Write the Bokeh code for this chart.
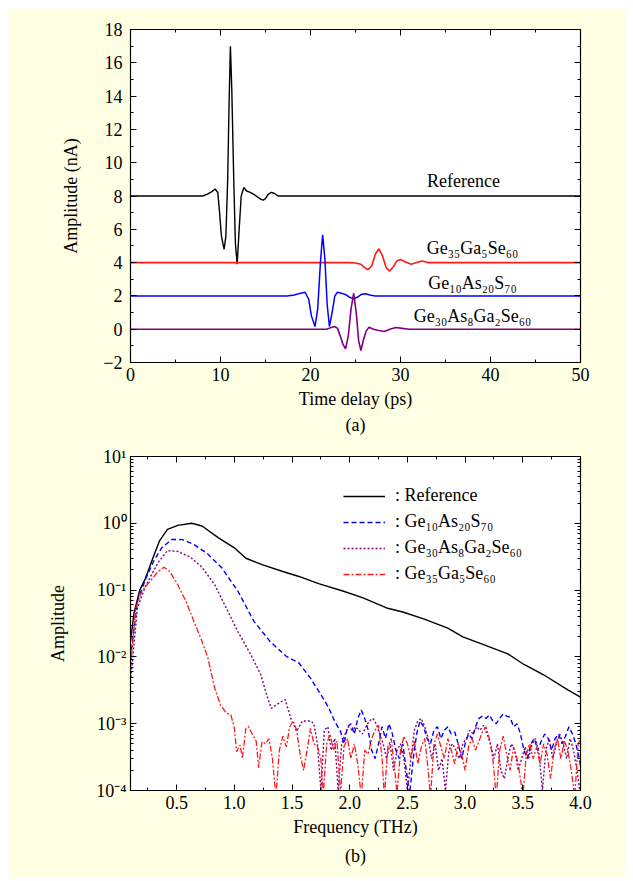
from bokeh.plotting import figure
from bokeh.layouts import column
from bokeh.models import (Range1d, LinearAxis, LogAxis, SingleIntervalTicker, LogTicker,
                          CustomJSTickFormatter, PrintfTickFormatter, Legend, LegendItem, Title)
from bokeh.core.properties import value
from bokeh.embed import file_html
from bokeh.resources import INLINE

FONT = "Liberation Serif"
BG = "#FFFFE3"

# ---------------- panel (a) data: time-domain waveforms ----------------
ref_t = [0, 8.0, 8.5, 9.0, 9.4, 9.7, 9.9, 10.1, 10.4, 10.6, 10.8, 10.95, 11.1, 11.25, 11.45,
         11.65, 11.85, 12.05, 12.3, 12.6, 12.9, 13.3, 13.7, 14.1, 14.5, 14.75, 15.0, 15.3,
         15.65, 16.0, 16.4, 50]
ref_a = [8.0, 8.0, 8.1, 8.25, 8.42, 8.2, 7.0, 5.6, 4.8, 5.6, 9.0, 13.5, 17.0, 14.5, 9.5,
         5.2, 3.9, 5.8, 8.0, 8.52, 8.3, 8.22, 8.1, 7.95, 7.8, 7.75, 7.85, 8.1,
         8.22, 8.15, 8.0, 8.0]

gaga_t = [0, 24.3, 25.0, 25.6, 26.0, 26.4, 26.8, 27.2, 27.6, 28.0, 28.4, 28.8, 29.2, 29.6,
          30.0, 30.5, 31.2, 31.8, 32.4, 33.0, 50]
gaga_a = [4.0, 4.0, 3.98, 3.9, 3.7, 3.57, 3.8, 4.5, 4.83, 4.4, 3.7, 3.49, 3.75, 4.1,
          4.19, 4.05, 3.9, 4.0, 4.1, 4.0, 4.0]

gas_t = [0, 17.4, 18.2, 18.8, 19.4, 19.8, 20.1, 20.5, 20.8, 21.1, 21.35, 21.6, 21.85, 22.1,
         22.4, 22.7, 23.0, 23.5, 24.0, 24.4, 24.8, 25.3, 25.7, 26.1, 26.6, 27.2, 50]
gas_a = [2.0, 2.0, 2.05, 2.15, 2.22, 1.8, 0.8, 0.16, 1.2, 4.0, 5.67, 4.2, 1.5, 0.16,
         1.0, 2.0, 2.22, 2.15, 2.05, 1.9, 1.82, 1.95, 2.1, 2.13, 2.05, 2.0, 2.0]

gags_t = [0, 21.8, 22.3, 22.7, 23.0, 23.3, 23.6, 23.9, 24.2, 24.5, 24.8, 25.1, 25.35, 25.6,
          25.9, 26.2, 26.5, 27.0, 27.6, 28.2, 28.8, 29.5, 30.2, 31.0, 50]
gags_a = [0.0, 0.0, 0.1, 0.16, 0.05, -0.4, -0.9, -1.18, -0.4, 1.2, 2.16, 0.9, -0.7, -1.28,
          -0.6, -0.1, 0.12, 0.0, -0.08, -0.14, 0.0, 0.1, 0.05, 0.0, 0.0]

labels_a = ["Reference", "Ge\u2083\u2085Ga\u2085Se\u2086\u2080",
            "Ge\u2081\u2080As\u2082\u2080S\u2087\u2080", "Ge\u2083\u2080As\u2088Ga\u2082Se\u2086\u2080"]

# ---------------- panel (b) data: amplitude spectra ----------------
f_ref = [0.10, 0.13, 0.18, 0.23, 0.30, 0.35, 0.42, 0.51, 0.63, 0.72, 0.86, 1.00, 1.10, 1.24,
         1.42, 1.56, 1.73, 1.94, 2.11, 2.32, 2.46, 2.64, 2.85, 2.98, 3.16, 3.37, 3.51, 3.68,
         3.89, 4.00]
s_ref = [0.017, 0.045, 0.100, 0.150, 0.32, 0.54, 0.81, 0.93, 1.00, 0.91, 0.61, 0.43, 0.30, 0.24,
         0.19, 0.16, 0.125, 0.097, 0.077, 0.054, 0.047, 0.037, 0.027, 0.020, 0.0153, 0.0111,
         0.0077, 0.0054, 0.0032, 0.0025]

f_gas = [0.10, 0.16, 0.23, 0.30, 0.37, 0.46, 0.55, 0.65, 0.76, 0.89, 1.03, 1.17, 1.31, 1.45,
         1.56, 1.66, 1.77, 1.82, 1.87, 1.92,
         1.95, 1.98, 2.01, 2.04, 2.07, 2.10, 2.13, 2.16, 2.19, 2.22, 2.25, 2.28, 2.31, 2.34,
         2.37, 2.40, 2.43, 2.46, 2.49, 2.52, 2.55, 2.58, 2.61, 2.64, 2.67, 2.70, 2.73, 2.76,
         2.79, 2.82, 2.85, 2.88, 2.91, 2.94, 2.97, 3.00, 3.03, 3.06, 3.09, 3.12, 3.15, 3.18,
         3.21, 3.24, 3.27, 3.30, 3.33, 3.36, 3.39, 3.42, 3.45, 3.48, 3.51, 3.54, 3.57, 3.60,
         3.63, 3.66, 3.69, 3.72, 3.75, 3.78, 3.81, 3.84, 3.87, 3.90, 3.93, 3.96, 3.99, 4.00]
s_gas = [0.0098, 0.068, 0.145, 0.27, 0.43, 0.575, 0.57, 0.48, 0.36, 0.216, 0.097, 0.034, 0.017,
         0.0102, 0.0081, 0.0048, 0.0024, 0.0017, 0.00108, 0.00077,
         5e-4, 9e-4, 1.0e-3, 7e-4, 1.2e-3, 1.6e-3, 1.2e-3, 8e-4, 4e-4, 3e-4, 5e-4, 9e-4, 6e-4,
         1.0e-3, 7e-4, 4e-4, 3e-4, 5e-4, 2e-4, 9e-5, 3e-4, 7e-4, 1.1e-3, 9e-4, 6e-4, 5e-4,
         8e-4, 9e-4, 6e-4, 8e-4, 9e-4, 7e-4, 7.5e-4, 5e-4, 3e-4, 5e-4, 7e-4, 6e-4, 9e-4,
         1.2e-3, 1.3e-3, 1.2e-3, 1.35e-3, 1.1e-3, 1.0e-3, 1.2e-3, 1.4e-3, 1.3e-3, 1.25e-3,
         9e-4, 1.0e-3, 7e-4, 4e-4, 3e-4, 5e-4, 6e-4, 4e-4, 5.5e-4, 7e-4, 6e-4, 4e-4, 6e-4,
         7e-4, 5e-4, 6.5e-4, 9e-4, 7e-4, 5e-4, 3e-4, 2.3e-4]

f_gags = [0.10, 0.16, 0.23, 0.34, 0.42, 0.51, 0.62, 0.72, 0.83, 0.93, 1.03, 1.14, 1.23, 1.28,
          1.32, 1.38, 1.44, 1.49, 1.54, 1.59, 1.66,
          1.69, 1.72, 1.75, 1.78, 1.81, 1.84, 1.87, 1.90, 1.93, 1.96, 1.99, 2.02, 2.05, 2.08,
          2.11, 2.14, 2.17, 2.20, 2.23, 2.26, 2.29, 2.32, 2.35, 2.38, 2.41, 2.44, 2.47, 2.50,
          2.53, 2.56, 2.59, 2.62, 2.65, 2.68, 2.71, 2.74, 2.77, 2.80, 2.83, 2.86, 2.89, 2.92,
          2.95, 2.98, 3.01, 3.04, 3.07, 3.10, 3.13, 3.16, 3.19, 3.22, 3.25, 3.28, 3.31, 3.34,
          3.37, 3.40, 3.43, 3.46, 3.49, 3.52, 3.55, 3.58, 3.61, 3.64, 3.67, 3.70, 3.73, 3.76,
          3.79, 3.82, 3.85, 3.88, 3.91, 3.94, 3.97, 4.00]
s_gags = [0.0043, 0.054, 0.115, 0.26, 0.39, 0.38, 0.31, 0.22, 0.12, 0.054, 0.024, 0.011, 0.0054,
          0.0027, 0.0017, 0.0020, 0.0023, 0.0012, 0.00077, 0.0011, 0.0011,
          1.0e-3, 5e-4, 1.0e-4, 8e-4, 9e-4, 4e-4, 6e-4, 1.0e-4, 5e-4, 7e-4, 9e-4, 8e-4, 9e-4,
          8e-4, 7e-4, 9e-4, 1.1e-3, 1.2e-3, 1.0e-3, 7e-4, 5e-4, 3e-4, 5e-4, 2e-4, 4e-4, 5e-4,
          3e-4, 1e-4, 3e-4, 8e-4, 1.1e-3, 1.2e-3, 9e-4, 6e-4, 3e-4, 5e-4, 2e-4, 3e-4, 1e-4,
          4e-4, 5e-4, 4e-4, 3e-4, 5e-4, 6e-4, 8e-4, 7e-4, 9e-4, 8e-4, 9.5e-4, 7e-4, 5e-4,
          3e-4, 5e-4, 2e-4, 1.5e-4, 3e-4, 5e-4, 4e-4, 2e-4, 3e-4, 4.5e-4, 3e-4, 5e-4, 6e-4,
          3.5e-4, 1e-4, 4e-4, 6e-4, 3e-4, 5e-4, 7e-4, 5e-4, 3e-4, 6e-4, 4e-4, 2e-4, 8e-5]

f_gaga = [0.10, 0.145, 0.20, 0.27, 0.34, 0.39, 0.44, 0.51, 0.58, 0.65, 0.72, 0.77, 0.83, 0.88,
          0.93, 0.97, 1.00, 1.02, 1.05, 1.07, 1.10, 1.12, 1.16, 1.19, 1.21, 1.24,
          1.27, 1.30, 1.33, 1.36, 1.39, 1.42, 1.45, 1.48, 1.51, 1.54, 1.57, 1.60, 1.63, 1.66,
          1.69, 1.72, 1.75, 1.77, 1.80, 1.83, 1.86, 1.89, 1.92, 1.95, 1.98, 2.01, 2.04, 2.07,
          2.10, 2.13, 2.16, 2.19, 2.22, 2.25, 2.28, 2.30, 2.33, 2.36, 2.39, 2.41, 2.44, 2.47,
          2.50, 2.53, 2.56, 2.59, 2.62, 2.65, 2.68, 2.70, 2.73, 2.76, 2.79, 2.82, 2.85, 2.88,
          2.91, 2.94, 2.97, 3.00, 3.03, 3.06, 3.09, 3.12, 3.15, 3.18, 3.21, 3.24, 3.27, 3.30,
          3.33, 3.36, 3.39, 3.42, 3.45, 3.48, 3.50, 3.53, 3.56, 3.59, 3.62, 3.65, 3.68, 3.71,
          3.74, 3.77, 3.80, 3.83, 3.86, 3.89, 3.92, 3.95, 3.98, 4.00]
s_gaga = [0.0069, 0.054, 0.097, 0.136, 0.19, 0.22, 0.19, 0.12, 0.068, 0.034, 0.017, 0.0097,
          0.0034, 0.0019, 0.00145, 0.00136, 0.00086, 0.00038, 0.00048, 0.0003, 0.00086, 0.00091,
          0.00068, 0.00054, 0.00022, 0.00054,
          5.0e-4, 6.0e-4, 3.0e-4, 8e-5, 4.0e-4, 6.5e-4, 4.5e-4, 9.0e-4, 1.1e-3, 8.0e-4, 3.5e-4,
          2.0e-4, 4.0e-4, 8.5e-4, 5.0e-4, 4.5e-4, 3.0e-4, 8e-5, 5.0e-4, 7.0e-4, 4.0e-4, 5.5e-4,
          9e-5, 4.5e-4, 6.0e-4, 3.0e-4, 5.0e-4, 2.5e-4, 8e-5, 4.0e-4, 3.5e-4, 6.0e-4, 8.0e-4,
          9.5e-4, 3.0e-4, 8e-5, 4.5e-4, 6.0e-4, 2.0e-4, 9e-5, 4.0e-4, 6.5e-4, 5.0e-4, 3.0e-4,
          5.5e-4, 2.5e-4, 4.5e-4, 6.0e-4, 2.0e-4, 8e-5, 5.0e-4, 7.0e-4, 4.5e-4, 3.0e-4, 6.0e-4,
          4.0e-4, 2.5e-4, 5.0e-4, 3.5e-4, 2.0e-4, 4.5e-4, 6.0e-4, 4.0e-4, 5.5e-4, 7.5e-4,
          9.0e-4, 6.0e-4, 3.0e-4, 8e-5, 4.0e-4, 6.5e-4, 3.5e-4, 2.0e-4, 4.5e-4, 3.0e-4, 1.5e-4,
          8e-5, 3.5e-4, 5.0e-4, 3.0e-4, 4.5e-4, 2.5e-4, 5.0e-4, 3.5e-4, 1.5e-4, 4.0e-4, 6.0e-4,
          3.0e-4, 5.5e-4, 4.0e-4, 2.0e-4, 8e-5, 5.0e-4, 6.0e-4]

legend_b = [": Reference", ": Ge\u2081\u2080As\u2082\u2080S\u2087\u2080",
            ": Ge\u2083\u2080As\u2088Ga\u2082Se\u2086\u2080", ": Ge\u2083\u2085Ga\u2085Se\u2086\u2080"]

BLACK, RED, BLUE, PURPLE = "#000000", "#FF1A1A", "#0000FF", "#800080"


def style_axes(p, xticker, yticker, xfmt=None, yfmt=None, log_y=False):
    for ax in p.axis:
        ax.axis_line_color = "black"
        ax.axis_line_width = 1.2
        ax.major_tick_in = 6
        ax.major_tick_out = 0
        ax.minor_tick_in = 3
        ax.minor_tick_out = 0
        ax.major_tick_line_color = "black"
        ax.minor_tick_line_color = "black"
        ax.major_label_text_font = FONT
        ax.major_label_text_font_size = "18px"
        ax.major_label_text_color = "black"
        ax.axis_label_text_font = FONT
        ax.axis_label_text_font_size = "18px"
        ax.axis_label_text_font_style = "normal"
        ax.axis_label_text_color = "black"
    p.xaxis.ticker = xticker
    p.yaxis.ticker = yticker
    if xfmt is not None:
        p.xaxis.formatter = xfmt
    if yfmt is not None:
        p.yaxis.formatter = yfmt
    # mirrored axes with inward ticks, no labels
    blank = CustomJSTickFormatter(code="return '';")
    top = LinearAxis(ticker=xticker, formatter=blank)
    if log_y:
        right = LogAxis(ticker=yticker, formatter=blank)
    else:
        right = LinearAxis(ticker=yticker, formatter=blank)
    for ax in (top, right):
        ax.axis_line_color = "black"
        ax.axis_line_width = 1.2
        ax.major_tick_in = 6
        ax.major_tick_out = 0
        ax.minor_tick_in = 3
        ax.minor_tick_out = 0
        ax.major_label_text_font_size = "0px"
        ax.major_label_standoff = 0
    p.add_layout(top, "above")
    p.add_layout(right, "right")


# ---------------- panel (a) ----------------
pa = figure(width=617, height=435, output_backend="svg", toolbar_location=None,
            x_range=Range1d(0, 50), y_range=Range1d(-2, 18),
            min_border_left=122, min_border_right=45, min_border_top=21, min_border_bottom=81,
            background_fill_color="white", border_fill_color=BG, outline_line_color="black")
pa.grid.visible = False
pa.xaxis.axis_label = "Time delay (ps)"
pa.yaxis.axis_label = "Amplitude (nA)"
style_axes(pa, SingleIntervalTicker(interval=10, num_minor_ticks=2),
           SingleIntervalTicker(interval=2, num_minor_ticks=2))
pa.yaxis[0].major_label_standoff = 8
pa.yaxis[0].axis_label_standoff = 19
pa.xaxis[0].major_label_standoff = 10
pa.xaxis[0].axis_label_standoff = 4

pa.line(ref_t, ref_a, line_color=BLACK, line_width=1.4)
pa.line(gaga_t, gaga_a, line_color=RED, line_width=1.6)
pa.line(gas_t, gas_a, line_color=BLUE, line_width=1.5)
pa.line(gags_t, gags_a, line_color=PURPLE, line_width=1.6)

pa.text(x=[37, 38, 38, 38], y=[8.9, 4.85, 2.76, 0.78], text=labels_a,
        text_font=value(FONT), text_font_size="18px", text_align="center",
        text_baseline="middle", text_color="black")

ta = Title(text="(a)", align="center", text_font=FONT, text_font_size="18px",
           text_font_style="normal", text_color="black", standoff=2)
pa.add_layout(ta, "below")

# ---------------- panel (b) ----------------
pb = figure(width=617, height=435, output_backend="svg", toolbar_location=None,
            x_range=Range1d(0.1, 4.0), y_range=Range1d(1e-4, 10), y_axis_type="log",
            min_border_left=122, min_border_right=45, min_border_top=13, min_border_bottom=88,
            background_fill_color="white", border_fill_color=BG, outline_line_color="black")
pb.grid.visible = False
pb.xaxis.axis_label = "Frequency (THz)"
pb.yaxis.axis_label = "Amplitude"
sup_fmt = CustomJSTickFormatter(code="""
const sup = {'0':'\u2070','1':'\u00b9','2':'\u00b2','3':'\u00b3','4':'\u2074','5':'\u2075',
             '6':'\u2076','7':'\u2077','8':'\u2078','9':'\u2079','-':'\u207b'};
const e = Math.round(Math.log10(tick));
return '10' + String(e).split('').map(c => sup[c]).join('');
""")
style_axes(pb, SingleIntervalTicker(interval=0.5, num_minor_ticks=2),
           LogTicker(num_minor_ticks=10), xfmt=PrintfTickFormatter(format="%.1f"),
           yfmt=sup_fmt, log_y=True)
pb.yaxis[0].major_label_standoff = 4
pb.yaxis[0].axis_label_standoff = 25
pb.xaxis[0].major_label_standoff = 7
pb.xaxis[0].axis_label_standoff = 8

r0 = pb.line(f_ref, s_ref, line_color=BLACK, line_width=1.4)
r1 = pb.line(f_gas, s_gas, line_color=BLUE, line_width=1.4, line_dash="5 3")
r2 = pb.line(f_gags, s_gags, line_color=PURPLE, line_width=1.4, line_dash="2 2")
r3 = pb.line(f_gaga, s_gaga, line_color=RED, line_width=1.3, line_dash="6 2 2 2")

leg = Legend(items=[LegendItem(label=legend_b[0], renderers=[r0]),
                    LegendItem(label=legend_b[1], renderers=[r1]),
                    LegendItem(label=legend_b[2], renderers=[r2]),
                    LegendItem(label=legend_b[3], renderers=[r3])],
             location=(213, 206), label_text_font=FONT, label_text_font_size="18px",
             label_text_color="black", glyph_width=42, glyph_height=20, label_height=20,
             label_standoff=10, spacing=5, padding=0, margin=0,
             border_line_color=None, background_fill_alpha=0)
pb.add_layout(leg)

tb = Title(text="(b)", align="center", text_font=FONT, text_font_size="18px",
           text_font_style="normal", text_color="black", standoff=8)
pb.add_layout(tb, "below")

layout = column(pa, pb, spacing=0, margin=(8, 0, 0, 8))
open("out.html", "w").write(file_html(layout, INLINE))
